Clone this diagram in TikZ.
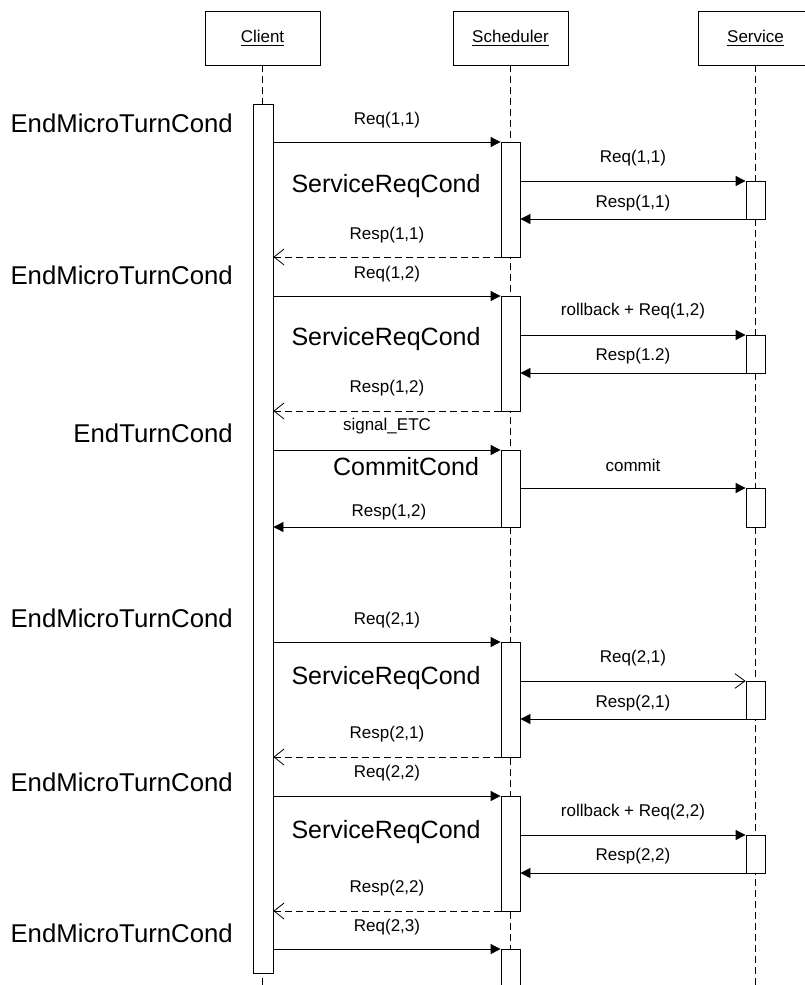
\documentclass[tikz,border=0pt]{standalone}
\usepackage{fontspec}
\setmainfont{Liberation Sans}
\usetikzlibrary{arrows.meta,fit}
\tikzset{
  head/.style={draw, line width=0.6pt, minimum width=86.25pt, minimum height=40.5pt, inner sep=0pt, font=\fontsize{12.75}{15}\selectfont},
  bar/.style={draw, fill=white, line width=0.6pt, inner sep=0pt},
  life/.style={line width=0.6pt, dash pattern=on 5.25pt off 3pt},
  lbl/.style={font=\fontsize{12.75}{15}\selectfont, inner sep=0pt},
  big/.style={font=\fontsize{18.75}{22}\selectfont, inner sep=0pt},
  cond/.style={font=\fontsize{19.3}{23}\selectfont, inner sep=0pt, anchor=east},
  call/.style={line width=0.6pt, -{Triangle[length=7.5pt,width=7.5pt]}},
  ret/.style={line width=0.6pt, dash pattern=on 5.25pt off 3pt, -{Straight Barb[length=7.5pt,width=12pt,line width=0.6pt]}},
  opencall/.style={line width=0.6pt, -{Straight Barb[length=7.5pt,width=11pt,line width=0.6pt]}},
}
\begin{document}
\begin{tikzpicture}[x=0.75pt,y=-0.75pt]
\clip (0,0) rectangle (805,985);
\fill[white] (0,0) rectangle (805,985);
\coordinate (bot) at (0,990);
% headers
\node[head] (client) at (262.5,38) {\underline{Client}};
\node[head] (sched) at (510.5,38) {\underline{Scheduler}};
\node[head] (serv) at (755.5,38) {\underline{Service}};
% lifelines
\draw[life] (client.south) -- (client.south |- bot);
\draw[life] (sched.south) -- (sched.south |- bot);
\draw[life] (serv.south) -- (serv.south |- bot);
% activation bars
\node[bar, fit={(253,104) (273,973)}] (c) {};
\node[bar, fit={(501,142) (520,257)}] (s1) {};
\node[bar, fit={(501,296) (520,411)}] (s2) {};
\node[bar, fit={(501,450) (520,527)}] (s3) {};
\node[bar, fit={(501,642) (520,757)}] (s4) {};
\node[bar, fit={(501,796) (520,911)}] (s5) {};
\node[bar, fit={(501,949) (520,1000)}] (s6) {};
\node[bar, fit={(746,181) (765,219)}] (v1) {};
\node[bar, fit={(746,335) (765,373)}] (v2) {};
\node[bar, fit={(746,488) (765,527)}] (v3) {};
\node[bar, fit={(746,681) (765,719)}] (v4) {};
\node[bar, fit={(746,835) (765,873)}] (v5) {};
% message rows
\coordinate (r1) at (0,142); \coordinate (r2) at (0,181); \coordinate (r3) at (0,219); \coordinate (r4) at (0,257);
\coordinate (r5) at (0,296); \coordinate (r6) at (0,335); \coordinate (r7) at (0,373); \coordinate (r8) at (0,411);
\coordinate (r9) at (0,450); \coordinate (r10) at (0,488); \coordinate (r11) at (0,527);
\coordinate (r12) at (0,642); \coordinate (r13) at (0,681); \coordinate (r14) at (0,719); \coordinate (r15) at (0,757);
\coordinate (r16) at (0,796); \coordinate (r17) at (0,835); \coordinate (r18) at (0,873); \coordinate (r19) at (0,911);
\coordinate (r20) at (0,949);
% block 1
\draw[call] (c.east |- r1) -- (s1.west |- r1);
\draw[call] (s1.east |- r2) -- (v1.west |- r2);
\draw[call] (v1.west |- r3) -- (s1.east |- r3);
\draw[ret] (s1.west |- r4) -- (c.east |- r4);
% block 2
\draw[call] (c.east |- r5) -- (s2.west |- r5);
\draw[call] (s2.east |- r6) -- (v2.west |- r6);
\draw[call] (v2.west |- r7) -- (s2.east |- r7);
\draw[ret] (s2.west |- r8) -- (c.east |- r8);
% commit
\draw[call] (c.east |- r9) -- (s3.west |- r9);
\draw[call] (s3.east |- r10) -- (v3.west |- r10);
\draw[call] (s3.west |- r11) -- (c.east |- r11);
% block 4
\draw[call] (c.east |- r12) -- (s4.west |- r12);
\draw[opencall] (s4.east |- r13) -- (v4.west |- r13);
\draw[call] (v4.west |- r14) -- (s4.east |- r14);
\draw[ret] (s4.west |- r15) -- (c.east |- r15);
% block 5
\draw[call] (c.east |- r16) -- (s5.west |- r16);
\draw[call] (s5.east |- r17) -- (v5.west |- r17);
\draw[call] (v5.west |- r18) -- (s5.east |- r18);
\draw[ret] (s5.west |- r19) -- (c.east |- r19);
% last
\draw[call] (c.east |- r20) -- (s6.west |- r20);
% message labels
\node[lbl] (l1) at (387,120) {Req(1,1)};
\node[lbl] (l2) at (633,158) {Req(1,1)};
\node[lbl] (l3) at (633,203) {Resp(1,1)};
\node[lbl] (l4) at (387,235) {Resp(1,1)};
\node[lbl] (l5) at (387,274) {Req(1,2)};
\node[lbl] (l6) at (633,311) {rollback + Req(1,2)};
\node[lbl] (l7) at (633,356) {Resp(1.2)};
\node[lbl] (l8) at (387,388) {Resp(1,2)};
\node[lbl] (l9) at (387,426) {signal\_ETC};
\node[lbl] (l10) at (633,465) {commit};
\node[lbl] (l11) at (389,512) {Resp(1,2)};
\node[lbl] (l12) at (387,620) {Req(2,1)};
\node[lbl] (l13) at (633,658) {Req(2,1)};
\node[lbl] (l14) at (633,703) {Resp(2,1)};
\node[lbl] (l15) at (387,734) {Resp(2,1)};
\node[lbl] (l16) at (387,773) {Req(2,2)};
\node[lbl] (l17) at (633,812) {rollback + Req(2,2)};
\node[lbl] (l18) at (633,856) {Resp(2,2)};
\node[lbl] (l19) at (387,888) {Resp(2,2)};
\node[lbl] (l20) at (387,927) {Req(2,3)};
% condition labels
\node[cond] (e1) at (233,123) {EndMicroTurnCond};
\node[cond] (e2) at (233,275) {EndMicroTurnCond};
\node[cond] (e3) at (233,433) {EndTurnCond};
\node[cond] (e4) at (233,618) {EndMicroTurnCond};
\node[cond] (e5) at (233,782) {EndMicroTurnCond};
\node[cond] (e6) at (233,933) {EndMicroTurnCond};
\node[big] (q1) at (386,186) {ServiceReqCond};
\node[big] (q2) at (386,339) {ServiceReqCond};
\node[big] (q3) at (406,467) {CommitCond};
\node[big] (q4) at (386,678) {ServiceReqCond};
\node[big] (q5) at (386,832) {ServiceReqCond};
\end{tikzpicture}
\end{document}
